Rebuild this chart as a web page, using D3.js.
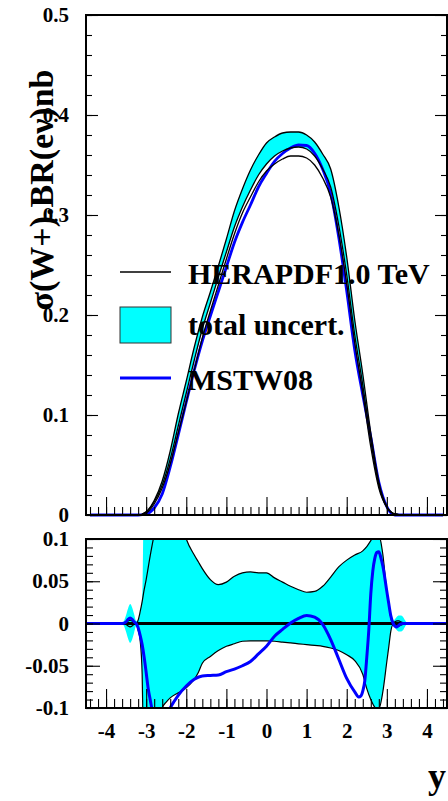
<!DOCTYPE html>
<html><head><meta charset="utf-8">
<script src="https://cdn.jsdelivr.net/npm/d3@7"></script>
<style>
body{margin:0;background:#fff}
svg{display:block}
text{font-family:"Liberation Serif","Times New Roman",serif;font-weight:bold;fill:#000}
</style>
</head><body>
<svg id="c" width="448" height="801"></svg>
<script>
// ---------- data ----------
const topX      = [-4.4,-3.4,-3.2,-3.0,-2.8,-2.6,-2.4,-2.2,-2.0,-1.8,-1.6,-1.4,-1.2,-1.0,-0.8,-0.6,-0.4,-0.2,0,0.2,0.4,0.6,0.8,1.0,1.2,1.4,1.6,1.8,2.0,2.2,2.4,2.6,2.8,3.0,3.2,3.4,3.6,4.4];
const heraCentral=[null,0,0,0.003,0.013,0.030,0.056,0.089,0.122,0.155,0.186,0.212,0.238,0.263,0.288,0.308,0.325,0.340,0.351,0.359,0.364,0.367,0.368,0.366,0.359,0.346,0.328,0.290,0.240,0.180,0.130,0.075,0.030,0.008,0.001,0,0,null];
const heraUpper = [null,0,0,0.0032,0.0144,0.034,0.064,0.101,0.134,0.168,0.198,0.223,0.249,0.276,0.304,0.326,0.345,0.360,0.372,0.378,0.382,0.383,0.383,0.380,0.373,0.361,0.346,0.309,0.258,0.195,0.141,0.082,0.033,0.0083,0.001,0,0,null];
const heraLower = [null,0,0,0.002,0.011,0.027,0.051,0.082,0.113,0.145,0.177,0.204,0.230,0.256,0.281,0.302,0.318,0.333,0.344,0.351,0.356,0.359,0.359,0.357,0.350,0.337,0.318,0.281,0.231,0.172,0.122,0.068,0.027,0.0076,0.001,0,0,null];
const mstwTop   = [0,0,0,0.001,0.007,0.021,0.048,0.080,0.113,0.145,0.174,0.199,0.2235,0.248,0.2725,0.2926,0.310,0.328,0.3415,0.3536,0.3615,0.367,0.370,0.3695,0.3617,0.3457,0.3218,0.278,0.224,0.165,0.120,0.078,0.033,0.0083,0,0,0,0];

const ratioX   = [-4.5,-3.6,-3.5,-3.45,-3.4,-3.35,-3.3,-3.25,-3.2,-3.15,-3.1,-3.05,-3.0,-2.9,-2.8,-2.7,-2.6,-2.5,-2.4,-2.2,-2.0,-1.8,-1.7,-1.6,-1.4,-1.2,-1.0,-0.8,-0.6,-0.4,-0.2,0,0.2,0.4,0.6,0.8,1.0,1.2,1.4,1.6,1.8,2.0,2.2,2.4,2.5,2.6,2.7,2.8,2.9,3.0,3.05,3.1,3.15,3.2,3.25,3.3,3.35,3.4,3.45,3.5,3.6,4.5];
const ratioUp  = [0,0,0.001,0.003,0.004,0.003,0.001,0,0.004,0.014,0.026,0.04,0.052,0.08,0.105,0.125,0.14,0.148,0.15,0.135,0.1,0.081,0.073,0.065,0.052,0.046,0.049,0.056,0.06,0.061,0.06,0.06,0.054,0.049,0.044,0.04,0.037,0.038,0.044,0.055,0.067,0.075,0.081,0.086,0.091,0.098,0.106,0.105,0.082,0.038,0.024,0.007,0.001,0.002,0.003,0.003,0.002,0.001,0,0,0,0];
const ratioDn  = [0,0,-0.001,-0.003,-0.004,-0.003,-0.001,0,-0.008,-0.02,-0.06,-0.2,-0.25,-0.22,-0.16,-0.12,-0.1,-0.093,-0.088,-0.082,-0.076,-0.066,-0.058,-0.047,-0.039,-0.032,-0.027,-0.024,-0.021,-0.0205,-0.0205,-0.0205,-0.021,-0.022,-0.023,-0.024,-0.025,-0.026,-0.027,-0.029,-0.032,-0.037,-0.044,-0.06,-0.077,-0.09,-0.099,-0.101,-0.081,-0.045,-0.027,-0.009,-0.002,-0.002,-0.003,-0.003,-0.002,-0.001,0,0,0,0];
const fillUp   = [0,0,0.01,0.018,0.023,0.019,0.011,0.003,0.004,0.014,0.03,0.2,0.3,0.3,0.2,0.125,0.14,0.148,0.15,0.135,0.1,0.081,0.073,0.065,0.052,0.046,0.049,0.056,0.06,0.061,0.06,0.06,0.054,0.049,0.044,0.04,0.037,0.038,0.044,0.055,0.067,0.075,0.081,0.086,0.091,0.098,0.108,0.107,0.082,0.038,0.024,0.007,0.002,0.005,0.008,0.0095,0.0095,0.008,0.004,0.001,0,0];
const fillDn   = [0,0,-0.01,-0.018,-0.023,-0.019,-0.011,-0.003,-0.008,-0.02,-0.06,-0.2,-0.25,-0.22,-0.16,-0.12,-0.1,-0.093,-0.088,-0.082,-0.076,-0.066,-0.058,-0.047,-0.039,-0.032,-0.027,-0.024,-0.021,-0.0205,-0.0205,-0.0205,-0.021,-0.022,-0.023,-0.024,-0.025,-0.026,-0.027,-0.029,-0.032,-0.037,-0.044,-0.06,-0.077,-0.09,-0.099,-0.101,-0.081,-0.045,-0.027,-0.009,-0.002,-0.005,-0.008,-0.0095,-0.0095,-0.008,-0.004,-0.001,0,0];

const mstwRatioX = [-4.5,-3.6,-3.5,-3.45,-3.4,-3.35,-3.3,-3.25,-3.2,-3.15,-3.1,-3.05,-3.0,-2.95,-2.9,-2.85,-2.8,-2.7,-2.6,-2.5,-2.4,-2.3,-2.2,-2.0,-1.8,-1.6,-1.4,-1.2,-1.0,-0.8,-0.6,-0.4,-0.2,0,0.2,0.4,0.6,0.8,1.0,1.2,1.4,1.6,1.8,2.0,2.2,2.3,2.35,2.4,2.45,2.5,2.55,2.6,2.65,2.7,2.75,2.8,2.85,2.9,3.0,3.05,3.1,3.15,3.2,3.25,3.3,3.35,3.4,4.5];
const mstwRatio  = [0,0,0.002,0.005,0.0065,0.005,0.002,0,-0.005,-0.014,-0.025,-0.04,-0.058,-0.077,-0.09,-0.103,-0.115,-0.13,-0.125,-0.112,-0.1,-0.092,-0.085,-0.074,-0.066,-0.062,-0.0615,-0.061,-0.057,-0.054,-0.05,-0.045,-0.036,-0.027,-0.015,-0.007,0.0005,0.006,0.0095,0.0075,-0.001,-0.019,-0.042,-0.065,-0.081,-0.087,-0.086,-0.08,-0.068,-0.04,-0.008,0.035,0.062,0.077,0.084,0.085,0.078,0.068,0.038,0.023,0.009,0.001,-0.003,-0.004,-0.002,-0.0005,0,0];

const xTickValues   = [-4,-3,-2,-1,0,1,2,3,4];
const xTickLabels   = ["-4","-3","-2","-1","0","1","2","3","4"];
const topYTicks     = [0.5,0.4,0.3,0.2,0.1,0];
const topYLabels    = ["0.5","0.4","0.3","0.2","0.1","0"];
const botYTicks     = [0.1,0.05,0,-0.05,-0.1];
const botYLabels    = ["0.1","0.05","0","-0.05","-0.1"];
const legendLabels  = ["HERAPDF1.0 TeV","total uncert.","MSTW08"];
const yTitle = "σ(W+).BR(eν)nb";
const xTitle = "y";

// ---------- layout ----------
const svg = d3.select("#c");
const L = 86, R = 447;
const x = d3.scaleLinear().domain([-4.5,4.5]).range([L,R]);
const yTop = d3.scaleLinear().domain([0,0.5]).range([515,15]);
const yBot = d3.scaleLinear().domain([-0.1,0.1]).range([708,539]);
const CYAN = "#00ffff", BLUE = "#0000ff";

const defs = svg.append("defs");
defs.append("clipPath").attr("id","clipTop").append("rect")
  .attr("x",L).attr("y",yTop(0.5)).attr("width",R-L).attr("height",yTop(0)-yTop(0.5)+2);
defs.append("clipPath").attr("id","clipBot").append("rect")
  .attr("x",L).attr("y",yBot(0.1)).attr("width",R-L).attr("height",yBot(-0.1)-yBot(0.1));

const curve = d3.curveMonotoneX;

// ---------- top panel ----------
const gTop = svg.append("g").attr("clip-path","url(#clipTop)");
const topIdx = d3.range(topX.length);
gTop.append("path")
  .attr("d", d3.area().defined(i=>heraUpper[i]!=null).curve(curve)
     .x(i=>x(topX[i])).y0(i=>yTop(heraCentral[i])).y1(i=>yTop(heraUpper[i]))(topIdx))
  .attr("fill",CYAN).attr("stroke","none");
gTop.append("path")
  .attr("d", d3.line().curve(curve).x(i=>x(topX[i])).y(i=>yTop(mstwTop[i]))(topIdx))
  .attr("fill","none").attr("stroke",BLUE).attr("stroke-width",2.8);
[heraUpper, heraCentral, heraLower].forEach(arr=>{
  gTop.append("path")
    .attr("d", d3.line().defined(i=>arr[i]!=null).curve(curve).x(i=>x(topX[i])).y(i=>yTop(arr[i]))(topIdx))
    .attr("fill","none").attr("stroke","#000").attr("stroke-width",1.3);
});

// ---------- bottom panel ----------
const gBot = svg.append("g").attr("clip-path","url(#clipBot)");
const rIdx = d3.range(ratioX.length);
gBot.append("path")
  .attr("d", d3.area().curve(curve).x(i=>x(ratioX[i])).y0(i=>yBot(fillDn[i])).y1(i=>yBot(fillUp[i]))(rIdx))
  .attr("fill",CYAN).attr("stroke","none");
[ratioUp, ratioDn].forEach(arr=>{
  gBot.append("path")
    .attr("d", d3.line().curve(curve).x(i=>x(ratioX[i])).y(i=>yBot(arr[i]))(rIdx))
    .attr("fill","none").attr("stroke","#000").attr("stroke-width",1.2);
});
gBot.append("line").attr("x1",x(-4.5)).attr("x2",x(4.5)).attr("y1",yBot(0)).attr("y2",yBot(0))
  .attr("stroke","#000").attr("stroke-width",3.2);
const mIdx = d3.range(mstwRatioX.length);
gBot.append("path")
  .attr("d", d3.line().curve(curve).x(i=>x(mstwRatioX[i])).y(i=>yBot(mstwRatio[i]))(mIdx))
  .attr("fill","none").attr("stroke",BLUE).attr("stroke-width",3);

// ---------- axes ----------
function styleAxis(g, fs){
  g.select(".domain").remove();
  g.selectAll(".tick line").attr("stroke","#000").attr("stroke-width",1.1);
  g.selectAll("text").attr("font-size",fs)
    .attr("font-family",'"Liberation Serif","Times New Roman",serif').attr("font-weight","bold").attr("fill","#000");
  g.attr("font-family",null).attr("font-size",null);
}
const FS = 21;
styleAxis(svg.append("g").attr("transform",`translate(${L},0)`)
  .call(d3.axisLeft(yTop).tickValues(d3.range(0,0.5001,0.02)).tickSize(-6).tickFormat("")), FS);
styleAxis(svg.append("g").attr("transform",`translate(${L},0)`)
  .call(d3.axisLeft(yTop).tickValues(topYTicks).tickSize(-12).tickPadding(17).tickFormat((d,i)=>topYLabels[i])), FS);
styleAxis(svg.append("g").attr("transform",`translate(${R},0)`)
  .call(d3.axisRight(yTop).tickValues(d3.range(0,0.5001,0.02)).tickSize(-6).tickFormat("")), FS);
styleAxis(svg.append("g").attr("transform",`translate(${R},0)`)
  .call(d3.axisRight(yTop).tickValues(topYTicks).tickSize(-12).tickFormat("")), FS);
styleAxis(svg.append("g").attr("transform",`translate(0,${yTop(0)})`)
  .call(d3.axisBottom(x).tickValues(d3.range(-44,45,2).map(v=>v/10)).tickSize(-8).tickFormat("")), FS);
styleAxis(svg.append("g").attr("transform",`translate(0,${yTop(0)})`)
  .call(d3.axisBottom(x).tickValues(xTickValues).tickSize(-18).tickFormat("")), FS);
styleAxis(svg.append("g").attr("transform",`translate(${L},0)`)
  .call(d3.axisLeft(yBot).tickValues(d3.range(-10,11).map(v=>v/100)).tickSize(-7).tickFormat("")), FS);
styleAxis(svg.append("g").attr("transform",`translate(${L},0)`)
  .call(d3.axisLeft(yBot).tickValues(botYTicks).tickSize(-14).tickPadding(17).tickFormat((d,i)=>botYLabels[i])), FS);
styleAxis(svg.append("g").attr("transform",`translate(${R},0)`)
  .call(d3.axisRight(yBot).tickValues(d3.range(-10,11).map(v=>v/100)).tickSize(-7).tickFormat("")), FS);
styleAxis(svg.append("g").attr("transform",`translate(${R},0)`)
  .call(d3.axisRight(yBot).tickValues(botYTicks).tickSize(-14).tickFormat("")), FS);
styleAxis(svg.append("g").attr("transform",`translate(0,${yBot(-0.1)})`)
  .call(d3.axisBottom(x).tickValues(d3.range(-44,45,2).map(v=>v/10)).tickSize(-9).tickFormat("")), FS);
styleAxis(svg.append("g").attr("transform",`translate(0,${yBot(-0.1)})`)
  .call(d3.axisBottom(x).tickValues(xTickValues).tickSize(-19).tickPadding(15).tickFormat((d,i)=>xTickLabels[i])), FS);

// frames
svg.append("rect").attr("x",L).attr("y",yTop(0.5)).attr("width",R-L).attr("height",yTop(0)-yTop(0.5))
  .attr("fill","none").attr("stroke","#000").attr("stroke-width",2);
svg.append("rect").attr("x",L).attr("y",yBot(0.1)).attr("width",R-L).attr("height",yBot(-0.1)-yBot(0.1))
  .attr("fill","none").attr("stroke","#000").attr("stroke-width",2);

// titles
svg.append("text").attr("transform","translate(53,190) rotate(-90)")
  .attr("text-anchor","middle").attr("font-size",34).text(yTitle);
svg.append("text").attr("x",446).attr("y",788).attr("text-anchor","end").attr("font-size",36).text(xTitle);

// legend
const lg = svg.append("g");
lg.append("line").attr("x1",120).attr("x2",171).attr("y1",272).attr("y2",272).attr("stroke","#000").attr("stroke-width",1.3);
lg.append("rect").attr("x",120).attr("y",307).attr("width",51).attr("height",36).attr("fill",CYAN).attr("stroke","#333").attr("stroke-width",1);
lg.append("line").attr("x1",120).attr("x2",171).attr("y1",378).attr("y2",378).attr("stroke",BLUE).attr("stroke-width",3);
[284,335,390].forEach((yy,i)=>{
  lg.append("text").attr("x",188).attr("y",yy).attr("font-size",30).text(legendLabels[i]);
});
</script>
</body></html>
